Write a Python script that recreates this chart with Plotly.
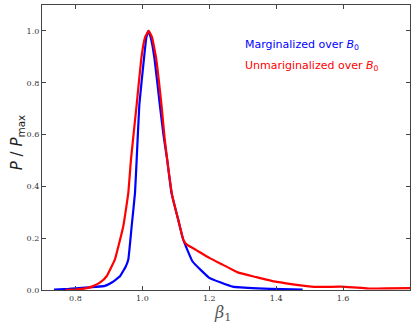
import plotly.graph_objects as go

# Normalised posterior curves
beta_marg = [0.736, 0.78, 0.82, 0.86, 0.888, 0.91, 0.933, 0.95, 0.958, 0.968, 0.978, 0.983,
             0.991, 1.005, 1.012, 1.018, 1.025, 1.036, 1.052, 1.063, 1.074, 1.087, 1.107,
             1.122, 1.15, 1.2, 1.27, 1.345, 1.42, 1.479]
p_marg = [0.002, 0.004, 0.008, 0.012, 0.016, 0.03, 0.053, 0.09, 0.118, 0.246, 0.375, 0.504,
          0.716, 0.896, 0.975, 1.0, 0.975, 0.896, 0.716, 0.6, 0.504, 0.375, 0.272,
          0.195, 0.11, 0.047, 0.013, 0.006, 0.003, 0.002]

beta_unmarg = [0.77, 0.80, 0.83, 0.853, 0.875, 0.893, 0.918, 0.943, 0.958, 0.966, 0.983,
               0.997, 1.008, 1.019, 1.029, 1.041, 1.057, 1.067, 1.078, 1.09, 1.107, 1.122,
               1.132, 1.16, 1.2, 1.24, 1.285, 1.34, 1.394, 1.45, 1.513, 1.55, 1.593,
               1.63, 1.673, 1.73, 1.8]
p_unmarg = [0.001, 0.002, 0.006, 0.015, 0.03, 0.053, 0.118, 0.246, 0.375, 0.504, 0.716,
            0.896, 0.975, 1.0, 0.975, 0.896, 0.716, 0.58, 0.465, 0.36, 0.272, 0.195,
            0.176, 0.155, 0.124, 0.098, 0.068, 0.05, 0.033, 0.022, 0.012, 0.012, 0.013,
            0.01, 0.006, 0.006, 0.007]

x_ticks = [0.8, 1.0, 1.2, 1.4, 1.6]
y_ticks = [0.0, 0.2, 0.4, 0.6, 0.8, 1.0]

fig = go.Figure()
fig.add_trace(go.Scatter(x=beta_marg, y=p_marg, mode='lines',
                         line=dict(color='#0000ff', width=2.2, shape='spline', smoothing=0.3)))
fig.add_trace(go.Scatter(x=beta_unmarg, y=p_unmarg, mode='lines',
                         line=dict(color='#ff0000', width=2.2, shape='spline', smoothing=0.3)))

axis_style = dict(showgrid=False, zeroline=False, showline=True, linecolor='#444',
                  linewidth=1.2, mirror='allticks', ticks='inside', ticklen=4,
                  tickcolor='#444', tickfont=dict(family='DejaVu Serif', size=8, color='#333'))

fig.update_xaxes(range=[0.7, 1.8], tickvals=x_ticks,
                 ticktext=['%.1f' % v for v in x_ticks], **axis_style)
fig.update_yaxes(range=[0, 1.1], tickvals=y_ticks,
                 ticktext=['%.1f' % v for v in y_ticks], **axis_style)

fig.add_annotation(x=1.30, y=0.944, xref='x', yref='y', xanchor='left', yanchor='middle',
                   text='Marginalized over <i>B</i><sub>0</sub>', showarrow=False,
                   font=dict(family='DejaVu Sans', size=11, color='#0000ff'))
fig.add_annotation(x=1.30, y=0.863, xref='x', yref='y', xanchor='left', yanchor='middle',
                   text='Unmariginalized over <i>B</i><sub>0</sub>', showarrow=False,
                   font=dict(family='DejaVu Sans', size=11, color='#ff0000'))

# axis labels
fig.add_annotation(x=-0.098, y=0.52, xref='paper', yref='paper', textangle=-90,
                   text='<i>P</i> / <i>P</i><sub>max</sub>', showarrow=False,
                   font=dict(family='DejaVu Sans', size=15, color='#222'))
fig.add_annotation(x=0.49, y=-0.04, xref='paper', yref='paper', yanchor='top',
                   text='<i>β</i><sub>1</sub>', showarrow=False,
                   font=dict(family='DejaVu Serif', size=16, color='#555'))

fig.update_layout(width=416, height=326, showlegend=False,
                  margin=dict(l=42, r=6, t=5, b=36),
                  plot_bgcolor='white', paper_bgcolor='white')

# drop the default page margin so the figure sits at the window's corner
fig.write_html("out.html", config={'displayModeBar': False},
               post_script="document.body.style.margin='0';")
